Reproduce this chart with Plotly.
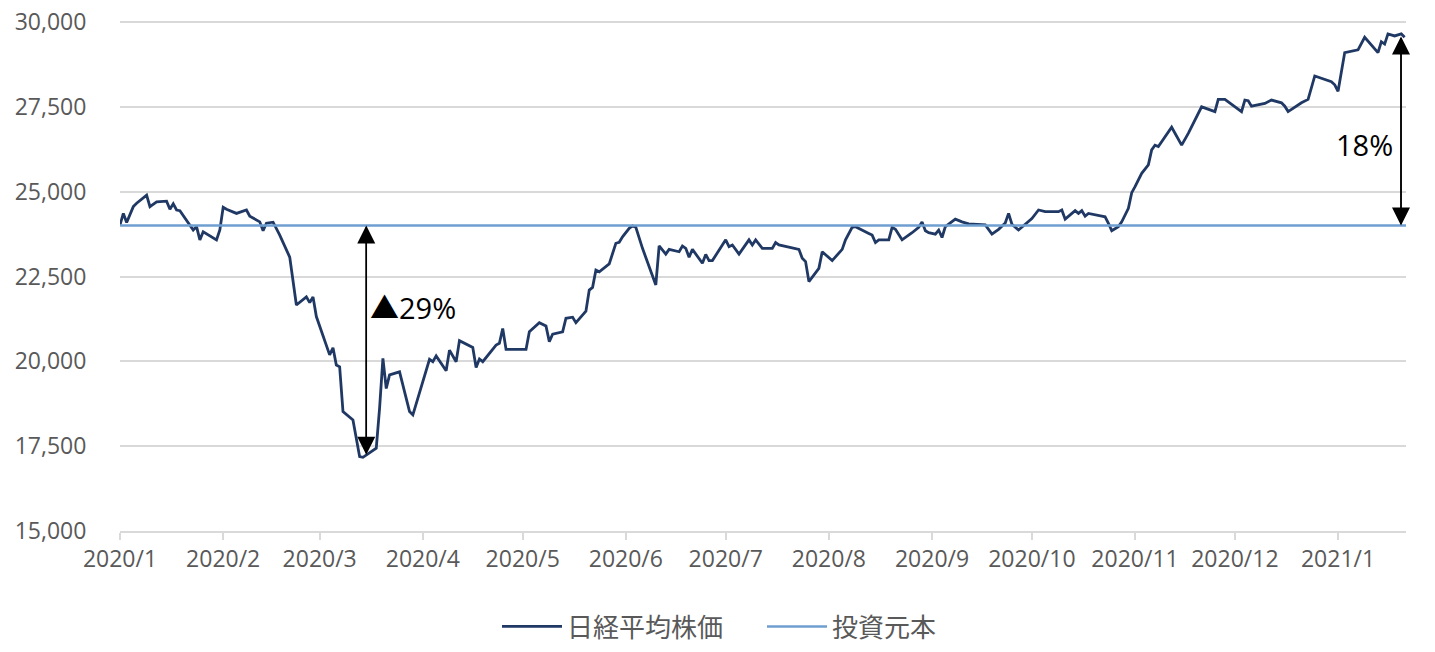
import plotly.graph_objects as go

# ---- data ----
dates = [
    "2020-01-06", "2020-01-07", "2020-01-08", "2020-01-10", "2020-01-11", "2020-01-14", "2020-01-15",
    "2020-01-17", "2020-01-20", "2020-01-21", "2020-01-22", "2020-01-23", "2020-01-24", "2020-01-27",
    "2020-01-28", "2020-01-29", "2020-01-30", "2020-01-31", "2020-02-04", "2020-02-05", "2020-02-06",
    "2020-02-07", "2020-02-10", "2020-02-13", "2020-02-14", "2020-02-17", "2020-02-18", "2020-02-19",
    "2020-02-21", "2020-02-23", "2020-02-26", "2020-02-28", "2020-03-02", "2020-03-03", "2020-03-04",
    "2020-03-05", "2020-03-09", "2020-03-10", "2020-03-11", "2020-03-12", "2020-03-13", "2020-03-16",
    "2020-03-18", "2020-03-19", "2020-03-23", "2020-03-24", "2020-03-25", "2020-03-26", "2020-03-27",
    "2020-03-30", "2020-04-02", "2020-04-03", "2020-04-08", "2020-04-09", "2020-04-10", "2020-04-13",
    "2020-04-14", "2020-04-16", "2020-04-17", "2020-04-21", "2020-04-22", "2020-04-23", "2020-04-24",
    "2020-04-28", "2020-04-29", "2020-04-30", "2020-05-01", "2020-05-07", "2020-05-08", "2020-05-11",
    "2020-05-13", "2020-05-14", "2020-05-15", "2020-05-18", "2020-05-19", "2020-05-21", "2020-05-22",
    "2020-05-25", "2020-05-26", "2020-05-27", "2020-05-28", "2020-05-29", "2020-06-01", "2020-06-03",
    "2020-06-04", "2020-06-05", "2020-06-07", "2020-06-08", "2020-06-09", "2020-06-11", "2020-06-15",
    "2020-06-16", "2020-06-18", "2020-06-19", "2020-06-22", "2020-06-23", "2020-06-24", "2020-06-25",
    "2020-06-26", "2020-06-29", "2020-06-30", "2020-07-01", "2020-07-02", "2020-07-06", "2020-07-07",
    "2020-07-08", "2020-07-10", "2020-07-13", "2020-07-14", "2020-07-15", "2020-07-17", "2020-07-20",
    "2020-07-21", "2020-07-22", "2020-07-28", "2020-07-29", "2020-07-30", "2020-07-31", "2020-08-03",
    "2020-08-04", "2020-08-07", "2020-08-10", "2020-08-11", "2020-08-13", "2020-08-14", "2020-08-18",
    "2020-08-19", "2020-08-20", "2020-08-21", "2020-08-24", "2020-08-25", "2020-08-26", "2020-08-28",
    "2020-08-31", "2020-09-01", "2020-09-02", "2020-09-03", "2020-09-04", "2020-09-05", "2020-09-07",
    "2020-09-08", "2020-09-09", "2020-09-10", "2020-09-13", "2020-09-15", "2020-09-17", "2020-09-22",
    "2020-09-24", "2020-09-26", "2020-09-28", "2020-09-29", "2020-09-30", "2020-10-02", "2020-10-05",
    "2020-10-06", "2020-10-08", "2020-10-10", "2020-10-14", "2020-10-15", "2020-10-16", "2020-10-19",
    "2020-10-20", "2020-10-21", "2020-10-22", "2020-10-23", "2020-10-27", "2020-10-28", "2020-10-29",
    "2020-10-30", "2020-11-01", "2020-11-02", "2020-11-04", "2020-11-05", "2020-11-06", "2020-11-08",
    "2020-11-10", "2020-11-11", "2020-11-12", "2020-11-13", "2020-11-17", "2020-11-20", "2020-11-22",
    "2020-11-24", "2020-11-26", "2020-11-30", "2020-12-01", "2020-12-03", "2020-12-08", "2020-12-09",
    "2020-12-10", "2020-12-11", "2020-12-15", "2020-12-17", "2020-12-20", "2020-12-21", "2020-12-22",
    "2020-12-26", "2020-12-28", "2020-12-30", "2021-01-04", "2021-01-05", "2021-01-06", "2021-01-08",
    "2021-01-12", "2021-01-14", "2021-01-18", "2021-01-19", "2021-01-20", "2021-01-21", "2021-01-23",
    "2021-01-25", "2021-01-26",
]
nikkei = [
    24020, 24360, 24090, 24560, 24660, 24900, 24560,
    24700, 24720, 24480, 24640, 24460, 24440, 24020,
    23870, 23970, 23580, 23820, 23580, 23870, 24540,
    24480, 24360, 24460, 24280, 24110, 23850, 24070,
    24100, 23720, 23070, 21660, 21900, 21730, 21900,
    21320, 20190, 20400, 19890, 19840, 18520, 18270,
    17190, 17170, 17440, 18620, 20090, 19200, 19600,
    19690, 18520, 18420, 20060, 19990, 20160, 19720,
    20330, 19990, 20610, 20410, 19820, 20070, 19990,
    20480, 20530, 20970, 20350, 20350, 20870, 21140,
    21040, 20580, 20800, 20870, 21270, 21300, 21140,
    21480, 22100, 22180, 22690, 22640, 22870, 23480,
    23510, 23670, 23920, 23990, 23950, 23330, 22250,
    23400, 23160, 23300, 23230, 23400, 23330, 23070,
    23300, 22890, 23150, 22970, 22970, 23580, 23380,
    23430, 23160, 23580, 23430, 23580, 23330, 23330,
    23500, 23430, 23300, 23040, 22940, 22350, 22740,
    23230, 22970, 23300, 23580, 23950, 23970, 23770,
    23720, 23500, 23580, 23580, 23950, 23890, 23580,
    23790, 23870, 23950, 24110, 23850, 23790, 23750,
    23870, 23650, 23970, 24190, 24110, 24050, 24020,
    23750, 23890, 24080, 24360, 24040, 23870, 24110,
    24210, 24460, 24410, 24410, 24460, 24190, 24440,
    24360, 24440, 24280, 24360, 24280, 24260, 24070,
    23850, 23970, 24110, 24510, 24970, 25150, 25540,
    25790, 26230, 26370, 26330, 26900, 26370, 26720,
    27110, 27500, 27360, 27720, 27720, 27360, 27700,
    27680, 27520, 27600, 27700, 27620, 27520, 27360,
    27620, 27720, 28410, 28240, 28150, 27960, 29100,
    29180, 29550, 29100, 29420, 29350, 29650, 29590,
    29650, 29550,
]

principal_dates = ["2020-01-06", "2021-01-26 10:00"]
principal_values = [24000, 24000]

series_names = ["日経平均株価", "投資元本"]

tick_dates = ["2020-01-06", "2020-02-06", "2020-03-06", "2020-04-06", "2020-05-06", "2020-06-06",
              "2020-07-06", "2020-08-06", "2020-09-06", "2020-10-06", "2020-11-06", "2020-12-06",
              "2021-01-06"]
tick_labels = ["2020/1", "2020/2", "2020/3", "2020/4", "2020/5", "2020/6", "2020/7", "2020/8",
               "2020/9", "2020/10", "2020/11", "2020/12", "2021/1"]
y_ticks = [15000, 17500, 20000, 22500, 25000, 27500, 30000]

# arrows: (date, low value, high value) and labels
drop_arrow = ("2020-03-20", 17250, 24000)
gain_arrow = ("2021-01-24 22:00", 24000, 29570)
drop_label = ("2020-03-20 12:00", 21600, "▲29%")
gain_label = ("2021-01-23 06:00", 26380, "18%")

NAVY = "#203864"
BLUE = "#6f9fd0"
GRID = "#d9d9d9"
TXT = "#595959"
FONT = "Open Sans, Noto Sans CJK JP, sans-serif"

fig = go.Figure()
fig.add_trace(go.Scatter(x=dates, y=nikkei, mode="lines", name=series_names[0],
                         line=dict(color=NAVY, width=2.8)))
fig.add_trace(go.Scatter(x=principal_dates, y=principal_values, mode="lines", name=series_names[1],
                         line=dict(color=BLUE, width=2.5)))

annotations = []
for (d, lo, hi) in [drop_arrow, gain_arrow]:
    for tip, tail in ((lo, hi), (hi, lo)):
        annotations.append(dict(x=d, y=tip, ax=d, ay=tail, xref="x", yref="y", axref="x", ayref="y",
                                text="", showarrow=True, arrowhead=2, arrowsize=2.4,
                                arrowwidth=1.5, arrowcolor="black", standoff=0))
annotations.append(dict(x=drop_label[0], y=drop_label[1], text=drop_label[2], showarrow=False,
                        xanchor="left", yanchor="middle",
                        font=dict(family=FONT, size=29, color="black")))
annotations.append(dict(x=gain_label[0], y=gain_label[1], text=gain_label[2], showarrow=False,
                        xanchor="right", yanchor="middle",
                        font=dict(family=FONT, size=29, color="black")))

fig.update_layout(
    width=1435, height=652,
    margin=dict(l=120, r=29, t=21, b=121, autoexpand=False),
    paper_bgcolor="white", plot_bgcolor="white",
    showlegend=True,
    legend=dict(orientation="h", xref="container", x=0.531, xanchor="center",
                yref="container", y=0.039, yanchor="middle",
                font=dict(family="Noto Sans CJK JP", size=26, color=TXT),
                itemwidth=60, entrywidth=190, tracegroupgap=0),
    annotations=annotations,
)
fig.update_xaxes(
    type="date", range=["2020-01-06", "2021-01-26 10:00"],
    tickvals=tick_dates, ticktext=tick_labels, automargin=False,
    showgrid=False, showline=True, linecolor=GRID, linewidth=1.5,
    ticks="outside", ticklen=7, tickcolor=GRID, tickwidth=1.5,
    tickfont=dict(family=FONT, size=23, color=TXT), zeroline=False,
)
# top of range sits just above 30,000 so its gridline is drawn (not clipped at the edge)
fig.update_yaxes(
    range=[15000, 30030], tickvals=y_ticks, tickformat=",d", automargin=False,
    showgrid=True, gridcolor=GRID, gridwidth=1.5, zeroline=False, showline=False,
    ticks="outside", ticklen=28, tickcolor="rgba(0,0,0,0)",
    tickfont=dict(family=FONT, size=23, color=TXT),
)

# remove the default page margin so the figure fills the window exactly
fig.write_html("out.html", config={"displayModeBar": False},
               post_script="document.body.style.margin='0';")
